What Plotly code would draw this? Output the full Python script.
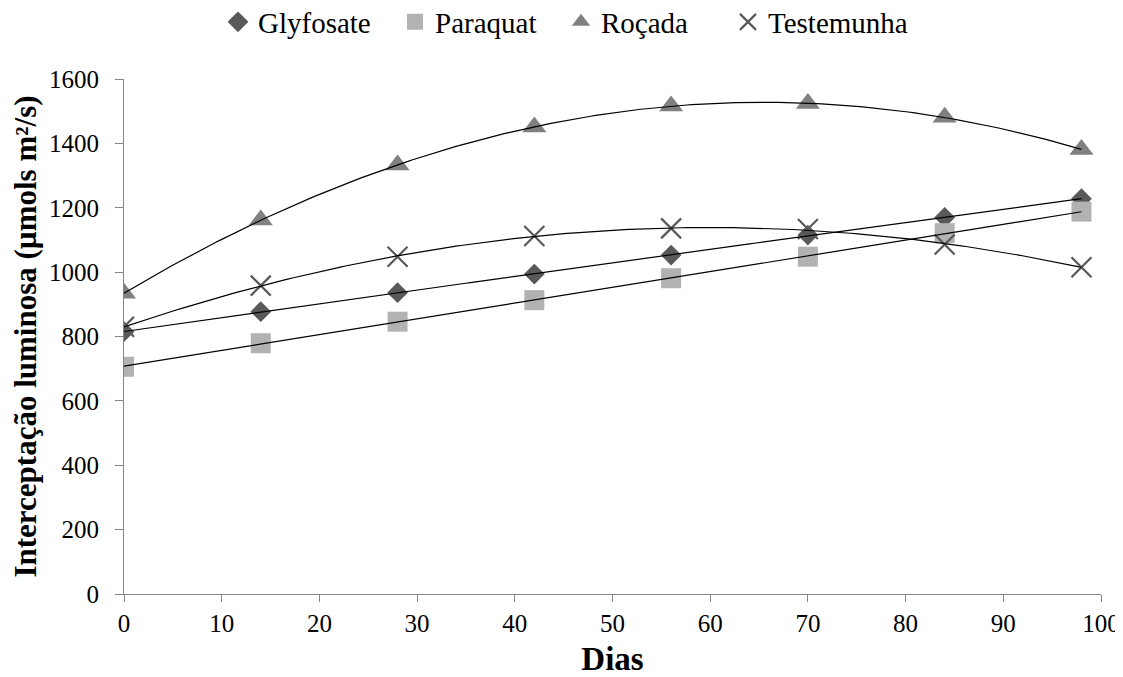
import numpy as np
import plotly.graph_objects as go

dias = [0, 14, 28, 42, 56, 70, 84, 98]
glyfosate = [815, 877, 936, 994, 1053, 1115, 1170, 1228]
paraquat = [706, 779, 846, 913, 981, 1048, 1121, 1188]
rocada = [934, 1162, 1333, 1451, 1516, 1524, 1481, 1381]
testemunha = [830, 958, 1048, 1112, 1136, 1134, 1086, 1015]

# name, values, marker style, trendline degree, legend entry width (px)
series = [
    ("Glyfosate", glyfosate, dict(symbol="diamond", size=16, color="#595959"), 2, 132),
    ("Paraquat", paraquat, dict(symbol="square", size=20, color="#b2b2b2"), 1, 121),
    ("Roçada", rocada, dict(symbol="triangle-up", size=21, color="#808080"), 2, 122),
    ("Testemunha", testemunha, dict(symbol="x-thin", size=20, color="#595959",
                                     line=dict(width=2.2, color="#595959")), 2, None),
]

# the page body has an 8px margin; the figure is sized so it fills the 1123x677 window
PAGE_OFF = 8
W, H = 1123 - PAGE_OFF, 677 - PAGE_OFF

fig = go.Figure()
xs = np.linspace(min(dias), max(dias), 200)
for name, vals, marker, deg, lw in series:
    fig.add_trace(go.Scatter(x=dias, y=vals, mode="markers", name=name, marker=marker,
                             legendwidth=lw))
for name, vals, marker, deg, lw in series:
    coef = np.polyfit(dias, vals, deg)
    fig.add_trace(go.Scatter(x=xs, y=np.polyval(coef, xs), mode="lines",
                             line=dict(color="black", width=1.2),
                             showlegend=False, hoverinfo="skip"))

font_family = "Liberation Serif, Times New Roman, serif"
fig.update_layout(
    width=W, height=H,
    margin=dict(l=124 - PAGE_OFF, r=22, t=79 - PAGE_OFF, b=83, autoexpand=False),
    paper_bgcolor="white", plot_bgcolor="white",
    font=dict(family=font_family, color="black", size=25),
    legend=dict(orientation="h", xref="container", x=0.5, xanchor="center",
                yref="container", y=1 - (22 - PAGE_OFF) / H, yanchor="middle",
                font=dict(size=29, family=font_family), itemsizing="trace",
                tracegroupgap=0, itemwidth=30),
    showlegend=True,
)
fig.update_xaxes(range=[0, 100], tickvals=list(range(0, 101, 10)), showgrid=False,
                 zeroline=False, showline=True, linecolor="#868686", linewidth=1,
                 ticks="outside", ticklen=7, tickcolor="#868686", ticklabelstandoff=0,
                 tickfont=dict(size=25, family=font_family),
                 title=dict(text="<b>Dias</b>", font=dict(size=33, family=font_family), standoff=15))
fig.update_yaxes(range=[0, 1600], tickvals=list(range(0, 1601, 200)), showgrid=False,
                 zeroline=False, showline=True, linecolor="#868686", linewidth=1,
                 ticks="outside", ticklen=8, tickcolor="#868686", ticklabelstandoff=11,
                 tickfont=dict(size=25, family=font_family),
                 title=dict(text="<b>Interceptação luminosa (µmols m²/s)</b>",
                            font=dict(size=31, family=font_family), standoff=6))

fig.write_html("out.html")
